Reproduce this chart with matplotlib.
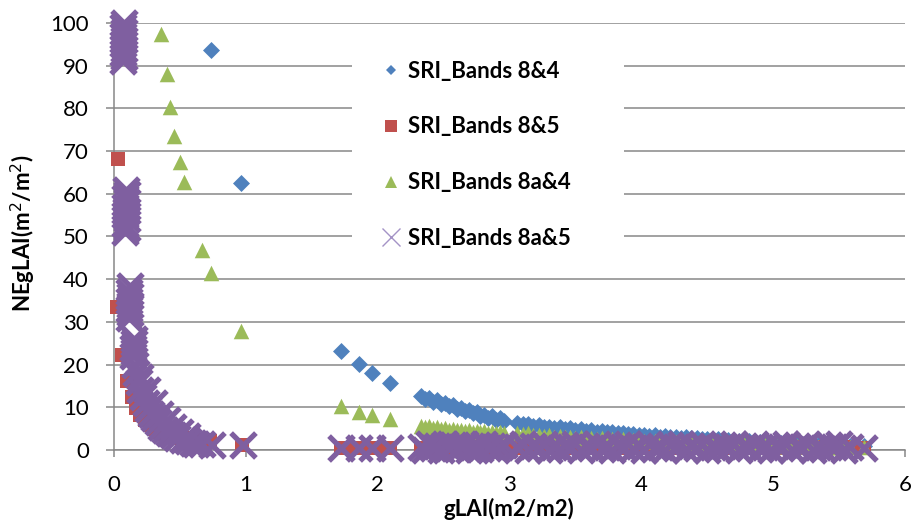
import numpy as np
import matplotlib.pyplot as plt
from matplotlib.lines import Line2D
from matplotlib.patches import Rectangle

plt.rcParams['font.family'] = ['Lato', 'DejaVu Sans']

# shared gLAI values for the dense part of the cloud (x > 2.3)
dense_x = [2.33, 2.36, 2.39, 2.42, 2.45, 2.48, 2.51, 2.54, 2.57, 2.60, 2.63,
           2.66, 2.69, 2.72, 2.75, 2.78, 2.81, 2.84, 2.87, 2.90, 2.93, 2.96,
           3.06, 3.10, 3.14, 3.18, 3.22, 3.26, 3.30, 3.34, 3.38, 3.42,
           3.46, 3.50, 3.54, 3.58, 3.62, 3.66, 3.70, 3.74, 3.78, 3.82,
           3.86, 3.90, 3.94, 3.98, 4.02, 4.06, 4.10, 4.14, 4.18, 4.22,
           4.26, 4.30, 4.34, 4.38, 4.42, 4.46, 4.50, 4.54, 4.58, 4.62,
           4.66, 4.70, 4.74, 4.78, 4.82, 4.86, 4.90, 4.94, 4.98, 5.02,
           5.06, 5.10, 5.14, 5.18, 5.22, 5.26, 5.30, 5.34, 5.38, 5.42,
           5.46, 5.50, 5.54, 5.58, 5.69]

blue_dense = [12.6, 11.9, 12.2, 11.3, 11.6, 10.8, 11.0, 10.3, 10.5, 9.7, 9.9,
              9.1, 9.3, 8.6, 8.8, 8.0, 8.3, 7.6, 7.9, 7.1, 7.4, 6.8,
              6.4, 6.0, 6.1, 5.7, 5.8, 5.4, 5.5, 5.2, 5.3, 4.9,
              5.1, 4.7, 4.9, 4.5, 4.6, 4.3, 4.4, 4.1, 4.2, 3.9,
              4.0, 3.7, 3.8, 3.5, 3.6, 3.3, 3.4, 3.15, 3.3, 3.0,
              3.1, 2.8, 2.95, 2.7, 2.8, 2.5, 2.65, 2.4, 2.5, 2.25,
              2.4, 2.1, 2.2, 1.95, 2.1, 1.8, 1.9, 1.65, 1.7, 1.5,
              1.6, 1.4, 1.5, 1.3, 1.4, 1.2, 1.3, 1.1, 1.2, 1.05,
              1.1, 1.0, 1.0, 0.95, 0.9]
green_dense = [5.7, 5.3, 5.6, 5.1, 5.4, 4.9, 5.2, 4.8, 5.0, 4.6, 4.8,
               4.5, 4.7, 4.3, 4.5, 4.2, 4.4, 4.0, 4.3, 3.9, 4.1, 3.9,
               4.0, 3.7, 3.9, 3.5, 3.6, 3.3, 3.5, 3.1, 3.3, 3.0,
               3.1, 2.9, 3.0, 2.7, 2.9, 2.6, 2.7, 2.5, 2.6, 2.4,
               2.5, 2.3, 2.4, 2.2, 2.2, 2.1, 2.1, 2.0, 2.0, 1.9,
               1.9, 1.8, 1.8, 1.7, 1.7, 1.6, 1.6, 1.5, 1.5, 1.4,
               1.4, 1.3, 1.3, 1.3, 1.2, 1.2, 1.2, 1.1, 1.1, 1.1,
               1.0, 1.0, 1.0, 0.9, 0.9, 0.9, 0.9, 0.8, 0.8, 0.8,
               0.8, 0.7, 0.7, 0.7, 0.7]
red_dense = [0.5, 0.4, 0.6, 0.5, 0.4, 0.6, 0.5, 0.4, 0.6, 0.5, 0.4,
             0.6, 0.5, 0.4, 0.6, 0.5, 0.4, 0.6, 0.5, 0.4, 0.6, 0.5,
             0.5, 0.4, 0.6, 0.5, 0.4, 0.6, 0.5, 0.4, 0.6, 0.5,
             0.4, 0.6, 0.5, 0.4, 0.6, 0.5, 0.4, 0.6, 0.5, 0.4,
             0.6, 0.5, 0.4, 0.6, 0.5, 0.4, 0.6, 0.5, 0.4, 0.6,
             0.5, 0.4, 0.6, 0.5, 0.4, 0.6, 0.5, 0.4, 0.6, 0.5,
             0.4, 0.6, 0.5, 0.4, 0.6, 0.5, 0.4, 0.6, 0.5, 0.4,
             0.6, 0.5, 0.4, 0.6, 0.5, 0.4, 0.6, 0.5, 0.4, 0.6,
             0.5, 0.4, 0.6, 0.5, 0.5]
purple_dense = [0.7, 0.1, 1.3, 0.4, 1.0, 0.0, 1.4, 0.5, 1.1, 0.2, 0.8,
                1.3, 0.1, 0.7, 1.2, 0.3, 1.4, 0.5, 1.0, 0.1, 0.8, 1.2,
                0.6, 1.3, 0.1, 1.0, 0.4, 1.4, 0.0, 0.8, 0.3, 1.2,
                0.7, 1.3, 0.1, 1.0, 0.4, 1.4, 0.2, 0.8, 0.0, 1.2,
                0.6, 1.3, 0.2, 1.0, 0.1, 1.4, 0.4, 0.8, 0.0, 1.2,
                0.7, 1.3, 0.1, 1.0, 0.4, 1.4, 0.0, 0.8, 0.3, 1.2,
                0.6, 1.3, 0.1, 1.0, 0.4, 1.4, 0.2, 0.8, 0.0, 1.2,
                0.7, 1.3, 0.1, 1.0, 0.4, 1.4, 0.0, 0.8, 0.3, 1.2,
                0.6, 1.3, 0.1, 0.7, 0.5]

# sparse points at low gLAI
blue_x = [0.735, 0.965, 1.725, 1.86, 1.96, 2.09]
blue_y = [93.6, 62.6, 23.2, 20.1, 18.0, 15.8]

red_x = [0.033, 0.025, 0.06, 0.10, 0.139, 0.17, 0.20, 0.235, 0.27, 0.30,
         0.34, 0.38, 0.42, 0.46, 0.50, 0.56, 0.65, 0.70, 0.73, 0.97,
         1.72, 1.76, 1.86, 1.91, 1.96, 2.05, 2.09]
red_y = [68.1, 33.4, 22.2, 16.2, 12.5, 9.8, 8.3, 7.0, 5.8, 4.9,
         4.2, 3.7, 3.3, 3.0, 2.8, 2.7, 2.2, 2.3, 2.2, 1.2,
         0.4, 0.4, 0.4, 0.4, 0.4, 0.4, 0.4]

green_x = [0.356, 0.40, 0.427, 0.455, 0.50, 0.53, 0.664, 0.732, 0.967,
           1.725, 1.86, 1.96, 2.09]
green_y = [97.5, 88.0, 80.3, 73.6, 67.4, 62.8, 46.9, 41.4, 27.8,
           10.3, 9.0, 8.2, 7.2]

purple_x = [0.065, 0.075, 0.065, 0.075, 0.065, 0.075, 0.065, 0.075, 0.065, 0.075,
            0.085, 0.095, 0.085, 0.095, 0.085, 0.095, 0.085, 0.095, 0.085, 0.095, 0.09,
            0.115, 0.125, 0.115, 0.125, 0.115, 0.125, 0.115, 0.125,
            0.145, 0.155, 0.145, 0.155, 0.15,
            0.16, 0.17, 0.19, 0.20, 0.22, 0.24, 0.26, 0.28, 0.30, 0.33,
            0.36, 0.39, 0.42, 0.45, 0.48, 0.52, 0.56, 0.60,
            0.20, 0.25, 0.30, 0.35, 0.40, 0.45, 0.50, 0.55,
            0.62, 0.67, 0.74, 0.975,
            1.725, 1.86, 1.96, 2.09]
purple_y = [91, 92, 93, 94, 95, 96, 97, 98, 99, 100,
            51, 52, 53, 54, 55, 56, 57, 58, 59, 60, 61,
            31, 32, 33, 34, 35, 36, 37, 38.5,
            22, 23, 24, 25, 26,
            20, 18, 16, 14, 12.5, 11, 9.5, 8.5, 7.5, 6.5,
            5.5, 4.7, 4.0, 3.4, 2.9, 2.4, 2.0, 1.6,
            17, 14, 11, 8.5, 7.0, 5.5, 4.2, 3.2,
            1.4, 1.3, 1.2, 1.2,
            0.5, 0.5, 0.5, 0.5]

labels = ['SRI_Bands 8&4', 'SRI_Bands 8&5', 'SRI_Bands 8a&4', 'SRI_Bands 8a&5']
colors = ['#4F81BD', '#C0504D', '#9BBB59', '#7F5FA0']
grid_col = '#878787'

W, H = 915, 522
fig = plt.figure(figsize=(W / 100, H / 100), dpi=100)
ax = fig.add_axes([114 / W, 1 - 450 / H, 791 / W, 427 / H])
ax.set_xlim(0, 6)
ax.set_ylim(0, 100)
ax.set_xticks(range(0, 7))
ax.set_yticks(range(0, 101, 10))
ax.yaxis.grid(True, color=grid_col, lw=1.1)
ax.set_axisbelow(True)
for s in ['top', 'right']:
    ax.spines[s].set_visible(False)
for s in ['left', 'bottom']:
    ax.spines[s].set_color(grid_col)
    ax.spines[s].set_linewidth(1.1)
ax.tick_params(axis='both', direction='out', color=grid_col, width=1.1,
               labelsize=16, labelcolor='black')
ax.tick_params(axis='x', length=5, pad=13)
ax.tick_params(axis='y', length=6, pad=12)

bx = np.concatenate([blue_x, dense_x])
by = np.concatenate([blue_y, blue_dense])
rx = np.concatenate([red_x, dense_x])
ry = np.concatenate([red_y, red_dense])
gx = np.concatenate([green_x, dense_x])
gy = np.concatenate([green_y, green_dense])
px = np.concatenate([purple_x, dense_x])
py = np.concatenate([purple_y, purple_dense])

ax.scatter(bx, by, marker='D', s=75, color=colors[0], linewidths=0,
           clip_on=False, zorder=3)
ax.scatter(rx, ry, marker='s', s=110, color=colors[1], linewidths=0,
           clip_on=False, zorder=4)
ax.scatter(gx, gy, marker='^', s=125, color=colors[2], linewidths=0,
           clip_on=False, zorder=5)
ax.scatter(px, py, marker='x', s=320, color=colors[3], linewidths=3.8,
           clip_on=False, zorder=6)

# white block behind the legend hides the gridlines there
ax.add_patch(Rectangle(((352 - 114) / 791, (450 - 250) / 427),
                       (624 - 352) / 791, (250 - 32) / 427,
                       transform=ax.transAxes, facecolor='white',
                       edgecolor='none', zorder=1))

handles = [
    Line2D([], [], ls='none', marker='D', ms=5.5, color=colors[0], mew=0),
    Line2D([], [], ls='none', marker='s', ms=8.5, color=colors[1], mew=0),
    Line2D([], [], ls='none', marker='^', ms=8.5, color=colors[2], mew=0),
    Line2D([], [], ls='none', marker='x', ms=13, color='#A493C6', mew=1.0),
]
leg = ax.legend(handles, labels, loc='upper left',
                bbox_to_anchor=((364 - 114) / 791, (450 - 45) / 427),
                frameon=False, prop={'weight': 'bold', 'size': 16},
                labelspacing=1.57, handlelength=1.0, handletextpad=0.3,
                borderpad=0.2)
leg.set_zorder(10)

fig.text(509 / W, 1 - 509 / H, 'gLAI(m2/m2)', ha='center', va='center',
         fontsize=16, fontweight='bold')
fig.text(23 / W, 1 - 233 / H, 'NEgLAI(m$^2$/m$^2$)', ha='center', va='center',
         rotation=90, fontsize=16, fontweight='bold')

fig.savefig('out.png', dpi=100)
